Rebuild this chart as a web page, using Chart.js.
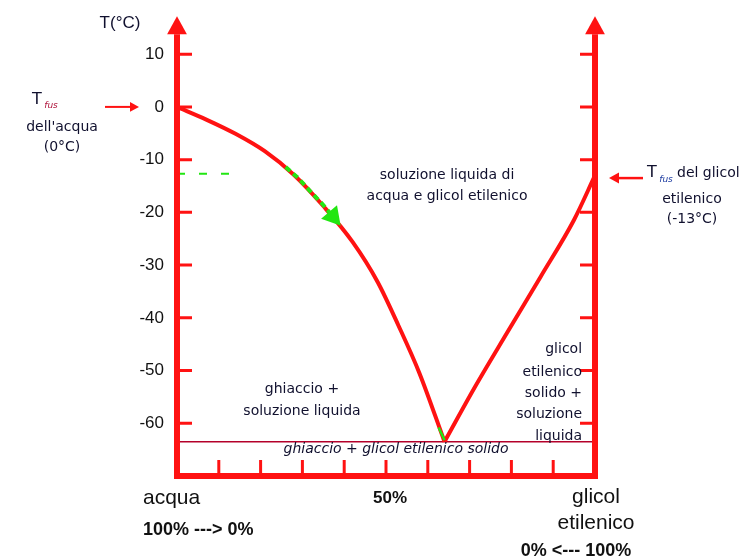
<!DOCTYPE html>
<html>
<head>
<meta charset="utf-8">
<script src="https://cdn.jsdelivr.net/npm/chart.js@4.4.0/dist/chart.umd.min.js"></script>
<style>
html, body { margin: 0; padding: 0; background: #fff; }
</style>
</head>
<body>
<canvas id="diagramma" width="742" height="558"></canvas>
<script>
// composizione in % di glicol etilenico (asse x) e temperatura in °C (asse y)
var liqAcquaX = [0, 7, 14, 21, 28, 35, 42, 48, 53, 58, 64];
var liqAcquaY = [0, -2.4, -5.1, -8.4, -12.9, -18.8, -25.6, -33.2, -41.5, -50.5, -63.5];
var liqGlicolX = [64, 71, 79, 87, 95, 100];
var liqGlicolY = [-63.5, -53.5, -42.8, -32.2, -21.4, -13];
var eutetticoX = [0, 100];
var eutetticoY = [-63.5, -63.5];
var guidaX = [0, 14];
var guidaY = [-12.7, -12.7];
var frecciaX = [26, 29, 32, 35, 37.3];
var frecciaY = [-11.4, -13.5, -16.1, -18.6, -20.8];
var puntaX = [62.6, 64];
var puntaY = [-60.8, -63.2];
var yTicks = [10, 0, -10, -20, -30, -40, -50, -60];
var xTicks = [10, 20, 30, 40, 50, 60, 70, 80, 90];

var ROSSO = '#ff1212';
var VERDE = '#22e612';
var TESTO = '#10102e';

function pts(xs, ys) {
  return xs.map(function(x, i) { return { x: x, y: ys[i] }; });
}

function scrivi(ctx, str, x, y, font, color, align) {
  ctx.font = font;
  ctx.fillStyle = color || TESTO;
  ctx.textAlign = align || 'center';
  ctx.textBaseline = 'middle';
  ctx.fillText(str, x, y);
}

function freccia(ctx, x1, y1, x2, y2, col, w, head) {
  var a = Math.atan2(y2 - y1, x2 - x1);
  ctx.strokeStyle = col; ctx.fillStyle = col; ctx.lineWidth = w;
  ctx.beginPath();
  ctx.moveTo(x1, y1);
  ctx.lineTo(x2 - Math.cos(a) * head, y2 - Math.sin(a) * head);
  ctx.stroke();
  ctx.beginPath();
  ctx.moveTo(x2, y2);
  ctx.lineTo(x2 - Math.cos(a) * head - Math.sin(a) * head * 0.55, y2 - Math.sin(a) * head + Math.cos(a) * head * 0.55);
  ctx.lineTo(x2 - Math.cos(a) * head + Math.sin(a) * head * 0.55, y2 - Math.sin(a) * head - Math.cos(a) * head * 0.55);
  ctx.closePath();
  ctx.fill();
}

var decorazioni = {
  id: 'decorazioni',
  afterDatasetsDraw: function(chart) {
    var ctx = chart.ctx, xs = chart.scales.x, ys = chart.scales.y;
    var xL = xs.getPixelForValue(0), xR = xs.getPixelForValue(100);
    var yB = ys.getPixelForValue(-70), yT = ys.getPixelForValue(17.2);
    ctx.save();
    ctx.lineCap = 'butt';

    // assi verticali con freccia e asse orizzontale
    [xL, xR].forEach(function(x) {
      freccia(ctx, x, yB + 3, x, yT, ROSSO, 6, 18);
    });
    ctx.strokeStyle = ROSSO;
    ctx.lineWidth = 6;
    ctx.beginPath();
    ctx.moveTo(xL - 3, yB); ctx.lineTo(xR + 3, yB);
    ctx.stroke();

    // tacche
    ctx.lineWidth = 3;
    yTicks.forEach(function(v) {
      var y = ys.getPixelForValue(v);
      ctx.beginPath();
      ctx.moveTo(xL, y); ctx.lineTo(xL + 15, y);
      ctx.moveTo(xR, y); ctx.lineTo(xR - 15, y);
      ctx.stroke();
    });
    xTicks.forEach(function(v) {
      var x = xs.getPixelForValue(v);
      ctx.beginPath();
      ctx.moveTo(x, yB); ctx.lineTo(x, yB - 16);
      ctx.stroke();
    });

    // frecce delle temperature di fusione
    freccia(ctx, 105, ys.getPixelForValue(0), 139, ys.getPixelForValue(0), ROSSO, 2, 9);
    freccia(ctx, 643, ys.getPixelForValue(-13.5), 609, ys.getPixelForValue(-13.5), ROSSO, 2.5, 10);

    var f14 = '14px "DejaVu Sans"';
    var fsub = 'italic 9px "DejaVu Sans"';

    scrivi(ctx, 'T(°C)', 120, 23, '17px "Liberation Sans"', TESTO);

    // T fus dell'acqua
    scrivi(ctx, 'T', 37, 100, '16px "DejaVu Sans"', TESTO);
    scrivi(ctx, 'fus', 51, 106, fsub, '#b0143c');
    scrivi(ctx, 'dell\'acqua', 62, 127, f14, TESTO);
    scrivi(ctx, '(0°C)', 62, 147, f14, TESTO);

    // T fus del glicol etilenico
    scrivi(ctx, 'T', 652, 173, '16px "DejaVu Sans"', TESTO);
    scrivi(ctx, 'fus', 666, 180, fsub, '#1b3aa0');
    scrivi(ctx, 'del glicol', 677, 173, f14, TESTO, 'left');
    scrivi(ctx, 'etilenico', 692, 199, f14, TESTO);
    scrivi(ctx, '(-13°C)', 692, 219, f14, TESTO);

    // zone del diagramma
    var zone = [
      ['soluzione liquida di', 64.6, -12.9, 'center', f14],
      ['acqua e glicol etilenico', 64.6, -17.0, 'center', f14],
      ['ghiaccio +', 29.9, -53.5, 'center', f14],
      ['soluzione liquida', 29.9, -57.7, 'center', f14],
      ['ghiaccio + glicol etilenico solido', 52.4, -65.0, 'center', 'italic 14px "DejaVu Sans"'],
      ['glicol', 96.9, -45.9, 'right', f14],
      ['etilenico', 96.9, -50.3, 'right', f14],
      ['solido +', 96.9, -54.3, 'right', f14],
      ['soluzione', 96.9, -58.4, 'right', f14],
      ['liquida', 96.9, -62.4, 'right', f14]
    ];
    zone.forEach(function(z) {
      scrivi(ctx, z[0], xs.getPixelForValue(z[1]), ys.getPixelForValue(z[2]), z[4], TESTO, z[3]);
    });

    // etichette dell'asse delle composizioni
    scrivi(ctx, 'acqua', 143, 498, '21px "Liberation Sans"', '#111', 'left');
    scrivi(ctx, '100% ---> 0%', 143, 530, 'bold 18px "Liberation Sans"', '#111', 'left');
    scrivi(ctx, '50%', 390, 498, 'bold 17px "Liberation Sans"', '#111');
    scrivi(ctx, 'glicol', 596, 497, '21px "Liberation Sans"', '#111');
    scrivi(ctx, 'etilenico', 596, 523, '21px "Liberation Sans"', '#111');
    scrivi(ctx, '0% <--- 100%', 576, 551, 'bold 18px "Liberation Sans"', '#111');
    ctx.restore();
  }
};

new Chart(document.getElementById('diagramma'), {
  type: 'scatter',
  data: {
    datasets: [
      {
        data: pts(frecciaX, frecciaY), showLine: true, borderColor: VERDE, borderWidth: 4,
        borderDash: [6, 4], pointRadius: [0, 0, 0, 0, 8], pointStyle: 'triangle',
        pointRotation: 140, pointBackgroundColor: VERDE, pointBorderColor: VERDE,
        order: 0, clip: false
      },
      {
        data: pts(guidaX, guidaY), showLine: true, borderColor: VERDE, borderWidth: 2,
        borderDash: [8, 14], pointRadius: 0, order: 0, clip: false
      },
      {
        data: pts(puntaX, puntaY), showLine: true, borderColor: VERDE, borderWidth: 2.5,
        pointRadius: 0, order: 0, clip: false
      },
      {
        data: pts(liqAcquaX, liqAcquaY), showLine: true, borderColor: ROSSO, borderWidth: 4,
        cubicInterpolationMode: 'monotone', pointRadius: 0, order: 1, clip: false
      },
      {
        data: pts(liqGlicolX, liqGlicolY), showLine: true, borderColor: ROSSO, borderWidth: 4,
        cubicInterpolationMode: 'monotone', pointRadius: 0, order: 1, clip: false
      },
      {
        data: pts(eutetticoX, eutetticoY), showLine: true, borderColor: '#b4002a', borderWidth: 1.5,
        pointRadius: 0, order: 2, clip: false
      }
    ]
  },
  options: {
    responsive: false,
    animation: false,
    events: [],
    layout: { padding: { top: 11, right: 147, bottom: 82, left: 0 } },
    plugins: { legend: { display: false }, tooltip: { enabled: false } },
    scales: {
      x: { type: 'linear', min: 0, max: 100, display: false },
      y: {
        type: 'linear', min: -70, max: 18, position: 'left',
        grid: { display: false, drawTicks: false },
        border: { display: false },
        ticks: { padding: 13, color: '#111', font: { family: 'Liberation Sans', size: 17 } },
        afterBuildTicks: function(s) { s.ticks = yTicks.map(function(v) { return { value: v }; }); },
        afterFit: function(s) { s.width = 177; s.paddingTop = 0; s.paddingBottom = 0; }
      }
    }
  },
  plugins: [decorazioni]
});
</script>
</body>
</html>
